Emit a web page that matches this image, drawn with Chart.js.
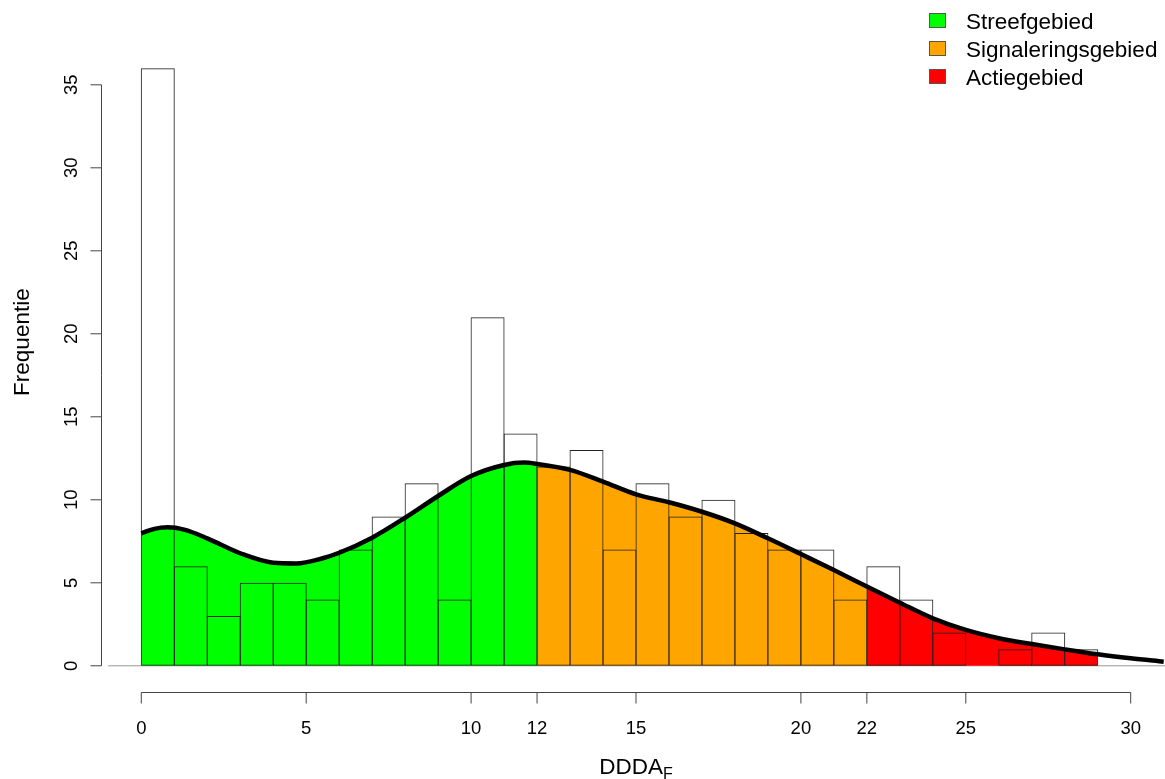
<!DOCTYPE html>
<html>
<head>
<meta charset="utf-8">
<title>DDDA histogram</title>
<script src="https://cdn.jsdelivr.net/npm/chart.js@4"></script>
<style>
  html, body { margin: 0; padding: 0; background: #fff; }
  #wrap { width: 1165px; height: 779px; }
</style>
</head>
<body>
<div id="wrap"><canvas id="histChart"></canvas></div>
<script>
// histogram bins (lower edge, width 1) and counts
const binEdges = [0, 1, 2, 3, 4, 5, 6, 7, 8, 9, 10, 11, 12, 13, 14, 15, 16, 17, 18, 19, 20, 21, 22, 23, 24, 25, 26, 27, 28];
const binCounts = [36, 6, 3, 5, 5, 4, 7, 9, 11, 4, 21, 14, 12, 13, 7, 11, 9, 10, 8, 7, 7, 4, 6, 4, 2, 0, 1, 2, 1];

// density curve
const densX = [0, 0.4, 0.8, 1.3, 2, 3, 4, 4.7, 5.5, 6, 7, 8, 9, 10, 11, 11.6, 12, 13, 14, 15, 16, 17, 18, 19, 20, 21, 22, 23, 24, 25, 26, 27, 28, 29, 30, 31];
const densY = [7.98, 8.25, 8.34, 8.2, 7.68, 6.78, 6.21, 6.17, 6.48, 6.81, 7.72, 8.92, 10.23, 11.43, 12.1, 12.24, 12.16, 11.8, 11.09, 10.33, 9.85, 9.28, 8.58, 7.68, 6.73, 5.77, 4.77, 3.8, 2.86, 2.16, 1.66, 1.31, 0.99, 0.69, 0.45, 0.25];

// coloured zones under the curve
const zoneNames = ['Streefgebied', 'Signaleringsgebied', 'Actiegebied'];
const zoneBreaks = [0, 12, 22, 29];
const zoneColors = ['#00ff00', '#ffa500', '#ff0000'];

const xTicks = [0, 5, 10, 12, 15, 20, 22, 25, 30];
const yTicks = [0, 5, 10, 15, 20, 25, 30, 35];

const FONT = "'Liberation Sans', Arial, sans-serif";

const curvePoints = densX.map((v, i) => ({ x: v, y: densY[i] }));

const zoneSets = zoneNames.map((name, i) => ({
    label: name,
    data: curvePoints.filter(p => p.x >= zoneBreaks[i] && p.x <= zoneBreaks[i + 1]),
    backgroundColor: zoneColors[i],
    borderColor: 'rgba(0,0,0,0)',
    borderWidth: 0,
    pointRadius: 0,
    fill: 'origin',
    cubicInterpolationMode: 'monotone',
    order: 3
}));

const barSet = {
    type: 'bar',
    label: 'Frequentie',
    data: binEdges.map((e, i) => ({ x: e + 0.5, y: binCounts[i] })),
    backgroundColor: 'rgba(0,0,0,0)',
    borderColor: '#222',
    borderWidth: 1,
    borderSkipped: false,
    barPercentage: 1.03,
    categoryPercentage: 1,
    order: 2
};

const curveSet = {
    label: 'density',
    data: curvePoints,
    borderColor: '#000',
    borderWidth: 4.5,
    pointRadius: 0,
    fill: false,
    cubicInterpolationMode: 'monotone',
    order: 1
};

// R-like axes, titles and legend
const rStyle = {
    id: 'rStyle',
    beforeDatasetsDraw(chart) {
        const {ctx, scales: {x, y}} = chart;
        const py = y.getPixelForValue(0);
        ctx.save();
        ctx.strokeStyle = '#999';
        ctx.lineWidth = 1;
        ctx.beginPath();
        ctx.moveTo(x.getPixelForValue(0) - 33, py);
        ctx.lineTo(chart.width, py);
        ctx.stroke();
        ctx.restore();
    },
    afterDraw(chart) {
        const {ctx, scales: {x, y}} = chart;
        const left = Math.round(x.getPixelForValue(0) - 40) + 0.5;
        const bottom = Math.round(y.getPixelForValue(0) + 26) + 0.5;
        ctx.save();
        ctx.strokeStyle = '#444';
        ctx.lineWidth = 1;
        ctx.beginPath();
        ctx.moveTo(x.getPixelForValue(xTicks[0]), bottom);
        ctx.lineTo(x.getPixelForValue(xTicks[xTicks.length - 1]), bottom);
        xTicks.forEach(v => {
            const px = x.getPixelForValue(v);
            ctx.moveTo(px, bottom);
            ctx.lineTo(px, bottom + 11);
        });
        ctx.moveTo(left, y.getPixelForValue(yTicks[0]));
        ctx.lineTo(left, y.getPixelForValue(yTicks[yTicks.length - 1]));
        yTicks.forEach(v => {
            const py = y.getPixelForValue(v);
            ctx.moveTo(left, py);
            ctx.lineTo(left - 11, py);
        });
        ctx.stroke();

        ctx.fillStyle = '#000';
        ctx.font = '18.5px ' + FONT;
        ctx.textAlign = 'center';
        ctx.textBaseline = 'alphabetic';
        xTicks.forEach(v => ctx.fillText(String(v), x.getPixelForValue(v), bottom + 41));
        yTicks.forEach(v => {
            ctx.save();
            ctx.translate(left - 25, y.getPixelForValue(v));
            ctx.rotate(-Math.PI / 2);
            ctx.fillText(String(v), 0, 0);
            ctx.restore();
        });

        // y title
        ctx.font = '22.5px ' + FONT;
        ctx.save();
        ctx.translate(29, y.getPixelForValue(19.5));
        ctx.rotate(-Math.PI / 2);
        ctx.fillText('Frequentie', 0, 0);
        ctx.restore();

        // x title with subscript
        ctx.font = '22.5px ' + FONT;
        const mainW = ctx.measureText('DDDA').width;
        ctx.font = '16px ' + FONT;
        const subW = ctx.measureText('F').width;
        const cx = (x.getPixelForValue(xTicks[0]) + x.getPixelForValue(xTicks[xTicks.length - 1])) / 2;
        const startX = cx - (mainW + subW) / 2;
        ctx.textAlign = 'left';
        ctx.font = '22.5px ' + FONT;
        ctx.fillText('DDDA', startX, bottom + 81);
        ctx.font = '16px ' + FONT;
        ctx.fillText('F', startX + mainW, bottom + 86);

        // legend
        ctx.font = '22.5px ' + FONT;
        ctx.strokeStyle = '#555';
        zoneNames.forEach((name, i) => {
            const top = 13.5 + 28 * i;
            ctx.fillStyle = zoneColors[i];
            ctx.fillRect(929.5, top, 16, 14);
            ctx.strokeRect(929.5, top, 16, 14);
            ctx.fillStyle = '#000';
            ctx.fillText(name, 966, top + 15.5);
        });
        ctx.restore();
    }
};

new Chart(document.getElementById('histChart'), {
    type: 'line',
    data: { datasets: [...zoneSets, barSet, curveSet] },
    options: {
        responsive: true,
        maintainAspectRatio: false,
        animation: false,
        events: [],
        layout: { padding: 0 },
        scales: {
            x: {
                type: 'linear',
                display: false,
                offset: false,
                min: -4.284,
                max: 31.04,
                ticks: { stepSize: 1, includeBounds: false }
            },
            y: {
                type: 'linear',
                display: false,
                min: -6.82,
                max: 40.11,
                ticks: { stepSize: 5, includeBounds: false }
            }
        },
        plugins: {
            legend: { display: false },
            tooltip: { enabled: false }
        }
    },
    plugins: [rStyle]
});
</script>
</body>
</html>
